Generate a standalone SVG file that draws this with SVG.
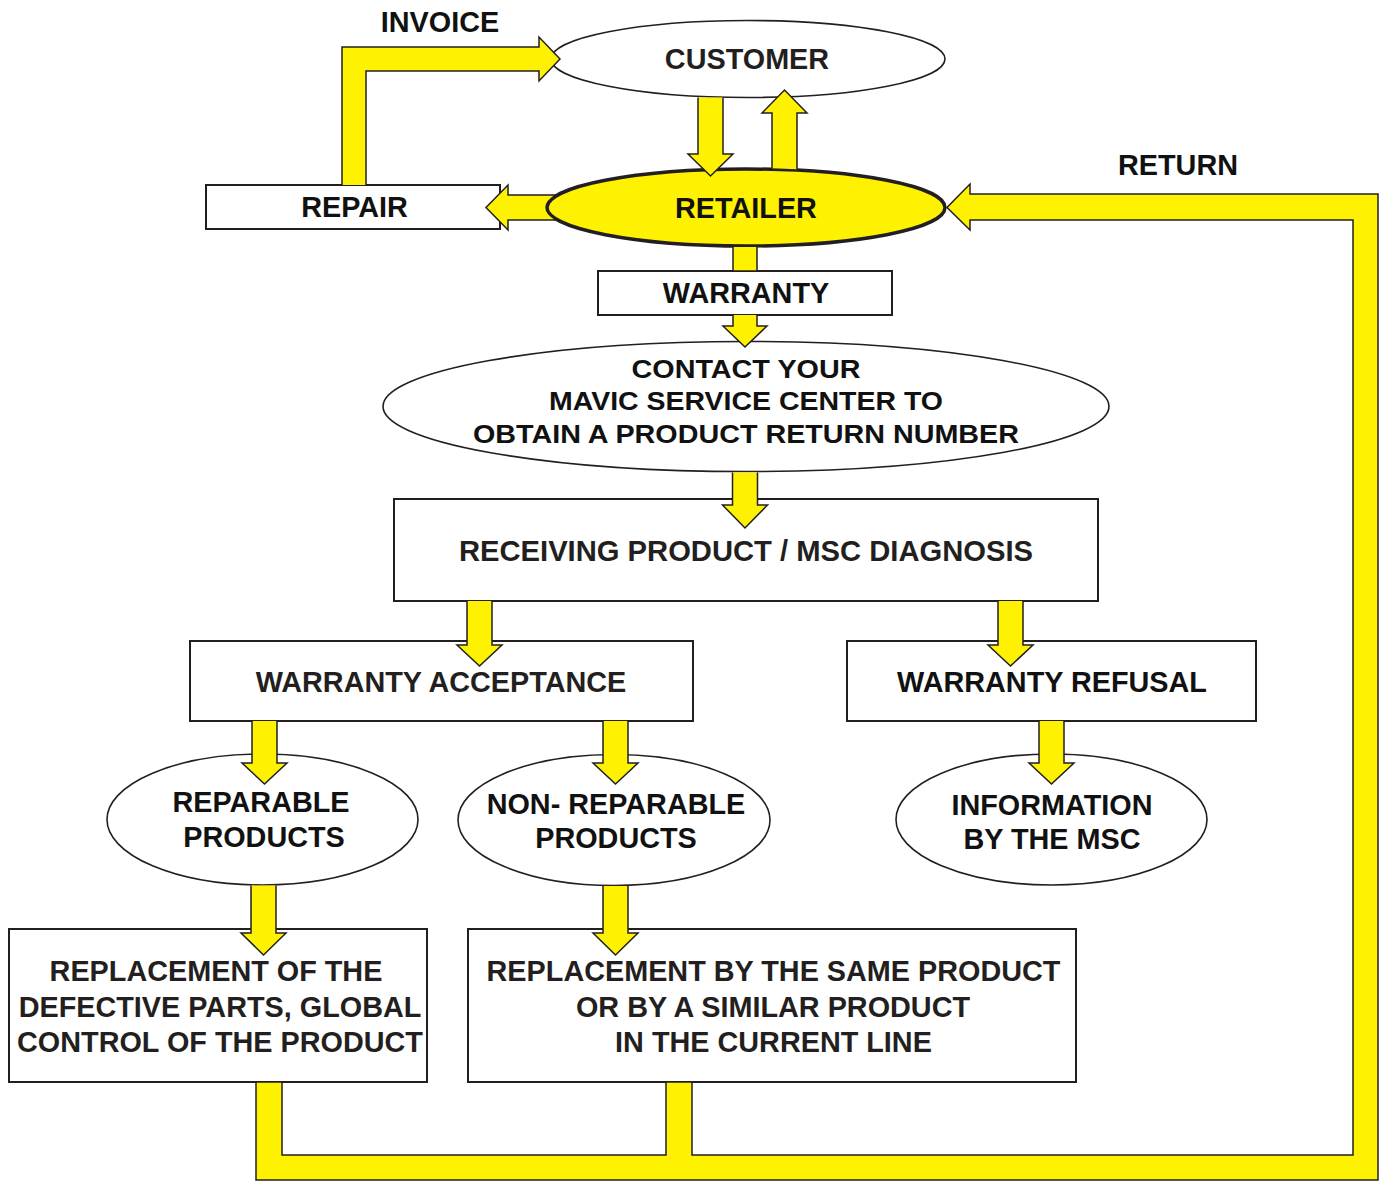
<svg xmlns="http://www.w3.org/2000/svg" width="1379" height="1182" viewBox="0 0 1379 1182">
<style>
.box{fill:#fff;stroke:#231f20;stroke-width:2}
.ell{fill:#fff;stroke:#231f20;stroke-width:1.6}
.hub{fill:#fff200;stroke:#231f20;stroke-width:3.5}
.arw{fill:#fff200;stroke:#231f20;stroke-width:1.5;stroke-linejoin:miter}
text{font-family:"Liberation Sans",Arial,Helvetica,sans-serif;font-weight:bold;font-size:28.8px;text-anchor:middle;fill:#111}
.g{fill:#231f20}
.c{font-size:25px}
.r{font-size:29.2px}
</style>
<rect width="1379" height="1182" fill="#fff"/>
<g id="nodes">
<g id="customer"><ellipse class="ell" cx="748" cy="59" rx="197" ry="38.5"/><text class="g" x="747" y="69">CUSTOMER</text></g>
<g id="retailer"><ellipse class="hub" cx="746" cy="207.5" rx="199" ry="38.5"/><text x="746" y="218">RETAILER</text></g>
<g id="repair"><rect class="box" x="206" y="185" width="294" height="44"/><text x="354.5" y="217">REPAIR</text></g>
<g id="warranty"><rect class="box" x="598" y="271" width="294" height="44"/><text x="746" y="303">WARRANTY</text></g>
<g id="contact"><ellipse class="ell" cx="746" cy="406.5" rx="363" ry="65"/>
<text class="c" x="746" y="377.5" textLength="229" lengthAdjust="spacingAndGlyphs">CONTACT YOUR</text>
<text class="c" x="746" y="410" textLength="394" lengthAdjust="spacingAndGlyphs">MAVIC SERVICE CENTER TO</text>
<text class="c" x="746" y="442.5" textLength="546" lengthAdjust="spacingAndGlyphs">OBTAIN A PRODUCT RETURN NUMBER</text></g>
<g id="receiving"><rect class="box" x="394" y="499" width="704" height="102"/><text class="g r" x="746" y="561">RECEIVING PRODUCT / MSC DIAGNOSIS</text></g>
<g id="acceptance"><rect class="box" x="190" y="641" width="503" height="80"/><text class="g" x="441" y="692">WARRANTY ACCEPTANCE</text></g>
<g id="refusal"><rect class="box" x="847" y="641" width="409" height="80"/><text x="1052" y="692">WARRANTY REFUSAL</text></g>
<g id="reparable"><ellipse class="ell" cx="262.5" cy="819.5" rx="155.5" ry="65.5"/><text x="261" y="812">REPARABLE</text><text x="264" y="847">PRODUCTS</text></g>
<g id="nonreparable"><ellipse class="ell" cx="614" cy="820" rx="156" ry="65.5"/><text x="616" y="814">NON- REPARABLE</text><text x="616" y="848">PRODUCTS</text></g>
<g id="information"><ellipse class="ell" cx="1051.5" cy="819.5" rx="155.5" ry="65.5"/><text x="1052" y="815">INFORMATION</text><text x="1052" y="849">BY THE MSC</text></g>
<g id="replaceparts"><rect class="box" x="9" y="929" width="418" height="153"/>
<text class="g" x="216" y="981">REPLACEMENT OF THE</text>
<text class="g" x="220" y="1017">DEFECTIVE PARTS, GLOBAL</text>
<text class="g" x="220" y="1052">CONTROL OF THE PRODUCT</text></g>
<g id="replaceproduct"><rect class="box" x="468" y="929" width="608" height="153"/>
<text class="g" x="773.5" y="981">REPLACEMENT BY THE SAME PRODUCT</text>
<text class="g" x="773" y="1017">OR BY A SIMILAR PRODUCT</text>
<text class="g" x="773.5" y="1052">IN THE CURRENT LINE</text></g>
</g>
<g id="connectors">
<path class="arw" d="M342 185 L342 47 L539 47 L539 37 L560 59 L539 81 L539 71 L366 71 L366 185"/>
<path class="arw" d="M556.3 195 L508 195 L508 185 L486 207.5 L508 230 L508 220 L556.3 220 A200 39.5 0 0 1 556.3 195 Z"/>
<path class="arw" d="M698 97.5 L698 154 L688 154 L710.5 176 L733 154 L723 154 L723 97.5"/>
<path class="arw" d="M772 168.3 L772 113 L762 113 L784.5 90 L807 113 L797 113 L797 169.3"/>
<path class="arw" d="M733 247 L733 271 L757 271 L757 247"/>
<path class="arw" d="M733 315 L733 326 L723 326 L745 347 L767 326 L757 326 L757 315"/>
<path class="arw" d="M732.5 472.5 L732.5 505 L722.5 505 L745 528 L767.5 505 L757.5 505 L757.5 472.5"/>
<path class="arw" d="M467 601 L467 645 L457 645 L479.5 666 L502 645 L492 645 L492 601"/>
<path class="arw" d="M998 601 L998 645 L988 645 L1010.5 666 L1033 645 L1023 645 L1023 601"/>
<path class="arw" d="M252 721 L252 763 L242 763 L264.5 784 L287 763 L277 763 L277 721"/>
<path class="arw" d="M603 721 L603 763 L593 763 L615.5 784 L638 763 L628 763 L628 721"/>
<path class="arw" d="M1039 721 L1039 763 L1029 763 L1051.5 784 L1074 763 L1064 763 L1064 721"/>
<path class="arw" d="M251 885.5 L251 933 L241 933 L263.5 955 L286 933 L276 933 L276 885.5"/>
<path class="arw" d="M603 886 L603 933 L593 933 L615.5 955 L638 933 L628 933 L628 886"/>
<path class="arw" d="M256 1082 L256 1180 L1378 1180 L1378 194 L970 194 L970 184 L947 207.5 L970 230 L970 220 L1353 220 L1353 1155 L692 1155 L692 1082 L666 1082 L666 1155 L282 1155 L282 1082 Z"/>
<text x="440" y="32">INVOICE</text>
<text x="1178" y="175">RETURN</text>
</g>
</svg>
